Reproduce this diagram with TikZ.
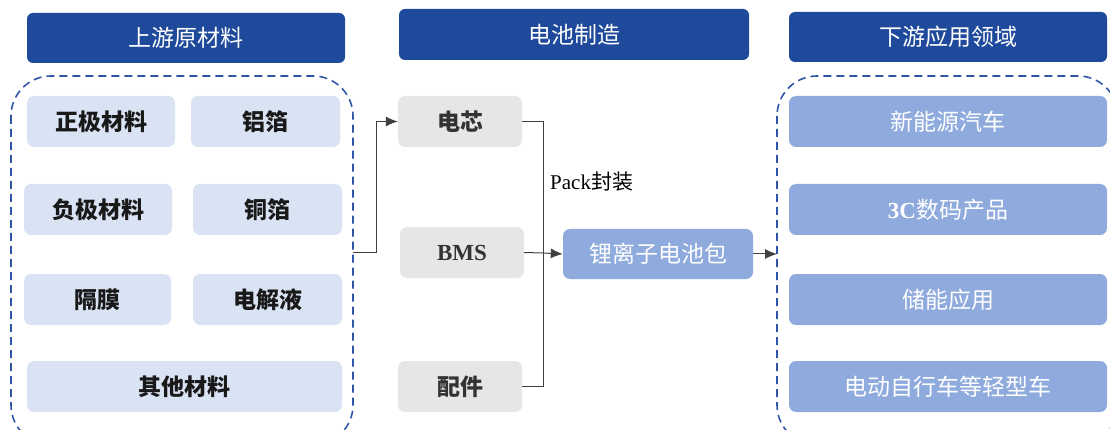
\documentclass[tikz,border=0pt]{standalone}
\usepackage{fontspec}
\setmainfont{Liberation Serif}
\newfontfamily\cjk{Noto Sans CJK SC}
\usetikzlibrary{arrows.meta}
\definecolor{hdblue}{HTML}{1F4A9C}
\definecolor{dashblue}{HTML}{2F56A6}
\definecolor{lightblue}{HTML}{DAE3F3}
\definecolor{midblue}{HTML}{8FAADC}
\definecolor{boxgray}{HTML}{E7E6E6}
\definecolor{linegray}{HTML}{404040}

\begin{document}
\begin{tikzpicture}[x=1pt,y=-1pt,
        head/.style={fill=hdblue, text=white, rounded corners=6pt, minimum width=318pt, minimum height=50pt, font=\cjk\fontsize{23}{26}\selectfont},
        matbox/.style={fill=lightblue, text=black!90, rounded corners=7pt, minimum height=51pt, font=\cjk\bfseries\fontsize{23}{26}\selectfont},
        partbox/.style={fill=boxgray, text=black!80, rounded corners=7pt, minimum width=124pt, minimum height=51pt, font=\cjk\bfseries\fontsize{23}{26}\selectfont},
        appbox/.style={fill=midblue, text=white, rounded corners=7pt, minimum width=318pt, minimum height=51pt, font=\cjk\fontsize{23}{26}\selectfont},
        group/.style={draw=dashblue, line width=1.6pt, dash pattern=on 8pt off 5pt, rounded corners=40pt},
        link/.style={draw=linegray, line width=1pt},
        arr/.style={link, -{Latex[length=12pt,width=10pt]}}]
        \useasboundingbox (0,0) rectangle (1110,430);

        % headers
        \node[head] (hup) at (186,38) {上游原材料};
        \node[head, minimum width=350pt, minimum height=51pt] (hmid) at (574,34.5) {电池制造};
        \node[head] (hdown) at (948,37) {下游应用领域};

        % upstream materials
        \draw[group] (11,76) rectangle (353,445);
        \node[matbox, minimum width=148pt] (cathode) at (101,121.5) {正极材料};
        \node[matbox, minimum width=149pt] (alfoil) at (265.5,121.5) {铝箔};
        \node[matbox, minimum width=148pt] (anode) at (98,209.5) {负极材料};
        \node[matbox, minimum width=149pt] (cufoil) at (267.5,209.5) {铜箔};
        \node[matbox, minimum width=147pt] (separator) at (97.5,299.5) {隔膜};
        \node[matbox, minimum width=149pt] (electrolyte) at (267.5,299.5) {电解液};
        \node[matbox, minimum width=315pt] (others) at (184.5,386.5) {其他材料};

        % manufacturing
        \node[partbox] (cell) at (460,121.5) {电芯};
        \node[partbox] (bms) at (462,252.5) {\rmfamily BMS};
        \node[partbox] (parts) at (460,386.5) {配件};
        \node[fill=midblue, text=white, rounded corners=7pt, minimum width=190pt, minimum height=50pt, font=\cjk\fontsize{23}{26}\selectfont] (pack) at (658,254) {锂离子电池包};
        \node[anchor=west, inner sep=0pt, font=\fontsize{21}{24}\selectfont] (packlbl) at (550,182) {Pack{\cjk 封装}};

        % downstream applications
        \draw[group] (777,76) rectangle (1118,445);
        \node[appbox] (nev) at (948,121.5) {新能源汽车};
        \node[appbox] (digital) at (948,209.5) {{\rmfamily\bfseries 3C}数码产品};
        \node[appbox] (storage) at (948,299.5) {储能应用};
        \node[appbox] (ebike) at (948,386.5) {电动自行车等轻型车};

        % connectors
        \coordinate (upout) at (353,253);
        \coordinate (join) at (543,253);
        \coordinate (downin) at (777,254);
        \draw[arr] (upout) -- ++(23,0) |- (cell.west);
        \draw[link] (cell.east) -| (join);
        \draw[link] (parts.east) -| (join);
        \draw[link] (bms.east) -- (join);
        \draw[arr] (join) -- (pack.west);
        \draw[arr] (pack.east) -- (downin);
\end{tikzpicture}
\end{document}
